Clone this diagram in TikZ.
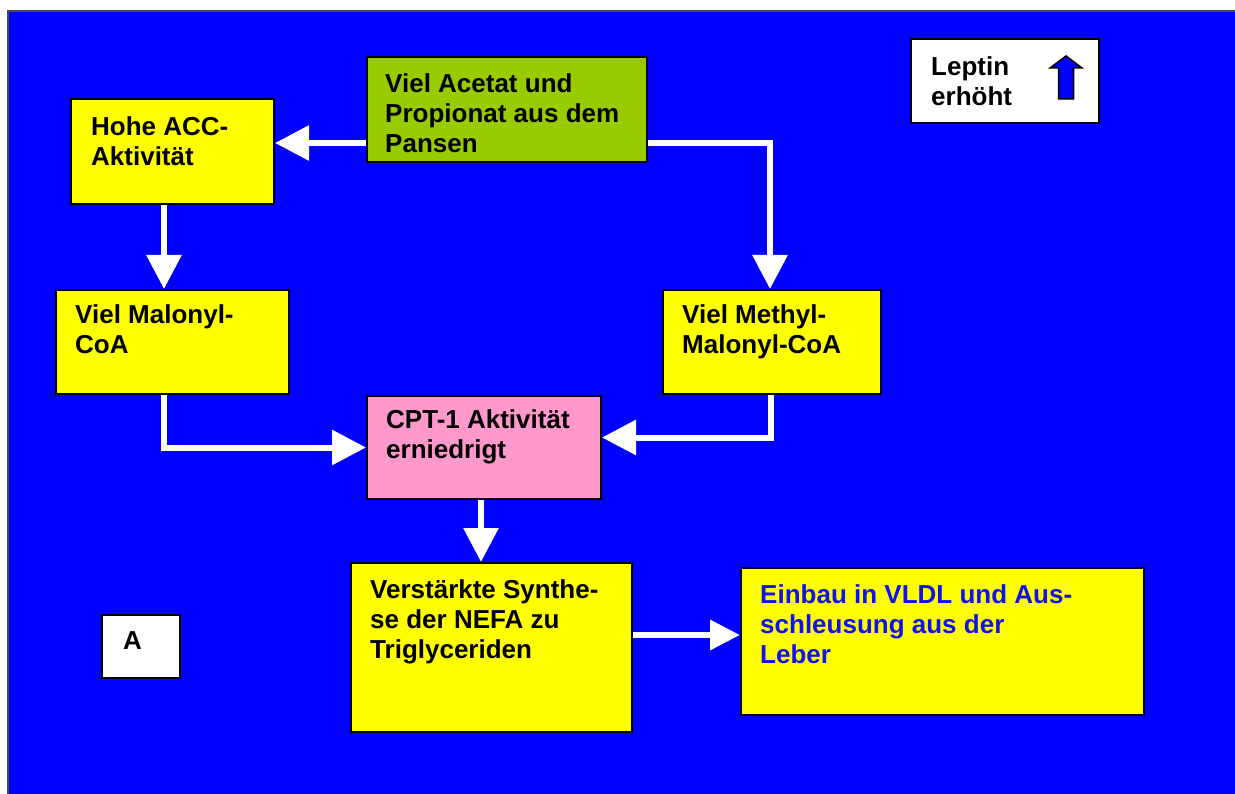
\documentclass[tikz,border=0pt]{standalone}
\usepackage{fontspec}
\setmainfont{Liberation Sans}
\usetikzlibrary{arrows.meta,calc}
\definecolor{bgblue}{HTML}{0000FF}
\definecolor{boxyellow}{HTML}{FFFF00}
\definecolor{boxgreen}{HTML}{99CC00}
\definecolor{boxpink}{HTML}{FF99CC}
\definecolor{textblue}{HTML}{1010F0}
\begin{document}
\begin{tikzpicture}[x=1pt,y=-1pt,
  box/.style={draw=black,line width=2pt,anchor=north west,inner sep=0pt},
  txt/.style={anchor=north west,inner sep=0pt,align=left,
    font=\fontsize{26}{30}\selectfont\bfseries},
  flow/.style={draw=white,line width=6pt,
    -{Triangle[length=34pt,width=34pt]}},
]
\useasboundingbox (0,0) rectangle (1235,794);
% frame
\fill[white] (0,0) rectangle (1235,794);
\draw[fill=bgblue,draw=black!70,line width=2pt] (8,11) rectangle (1245,804);

% boxes
\node[box,fill=boxgreen,minimum width=280,minimum height=105] (green) at (366,56) {};
\node[box,fill=boxyellow,minimum width=203,minimum height=105] (acc) at (70,98) {};
\node[box,fill=white,minimum width=188,minimum height=84] (lep) at (910,38) {};
\node[box,fill=boxyellow,minimum width=233,minimum height=104] (mal) at (55,289) {};
\node[box,fill=boxyellow,minimum width=218,minimum height=104] (meth) at (662,289) {};
\node[box,fill=boxpink,minimum width=234,minimum height=103] (cpt) at (366,395) {};
\node[box,fill=boxyellow,minimum width=281,minimum height=169] (syn) at (350,562) {};
\node[box,fill=boxyellow,minimum width=403,minimum height=147] (vldl) at (740,567) {};
\node[box,fill=white,minimum width=78,minimum height=63] (a) at (101,614) {};

% labels
\node[txt] (greenT) at ($(green.north west)+(19,17)$) {Viel Acetat und\\Propionat aus dem\\Pansen};
\node[txt] (accT) at ($(acc.north west)+(21,18)$) {Hohe ACC-\\Aktivität};
\node[txt] (lepT) at ($(lep.north west)+(21,18)$) {Leptin\\erhöht};
\node[txt] (malT) at ($(mal.north west)+(20,15)$) {Viel Malonyl-\\CoA};
\node[txt] (methT) at ($(meth.north west)+(20,15)$) {Viel Methyl-\\Malonyl-CoA};
\node[txt] (cptT) at ($(cpt.north west)+(20,14)$) {CPT-1 Aktivität\\erniedrigt};
\node[txt] (synT) at ($(syn.north west)+(20,17)$) {Verstärkte Synthe-\\se der NEFA zu\\Triglyceriden};
\node[txt,text=textblue] (vldlT) at ($(vldl.north west)+(20,17)$) {Einbau in VLDL und Aus-\\schleusung aus der\\Leber};
\node[txt] (aT) at ($(a.north west)+(22,17)$) {A};

% up arrow in the leptin box
\coordinate (up) at ($(lep.north west)+(156,18)$);
\draw[fill=bgblue,draw=black,line width=1.5pt,line join=miter]
  (up) -- ++(16,12) -- ++(-8.5,0) -- ++(0,31) -- ++(-15,0) -- ++(0,-31)
  -- ++(-8.5,0) -- cycle;

% connectors
\draw[flow] ($(green.south west)+(0,-20)$) -- ($(acc.east |- green.south west)+(0,-20)$);
\draw[flow] ($(green.south east)+(0,-20)$) -| ($(meth.north west)+(108,0)$);
\draw[flow] ($(acc.south west)+(94,0)$) -- ($(mal.north west)+(109,0)$);
\draw[flow] ($(mal.south west)+(109,0)$) |- (cpt.west);
\draw[flow] ($(meth.south west)+(109,0)$) |- ($(cpt.east)+(0,-10)$);
\draw[flow] ($(cpt.south west)+(115,0)$) -- ($(syn.north west)+(131,0)$);
\draw[draw=white,line width=6.5pt,-{Triangle[length=30pt,width=29pt]}]
  ($(syn.north east)+(0,73)$) -- ($(vldl.west |- syn.north east)+(0,73)$);
\end{tikzpicture}
\end{document}
